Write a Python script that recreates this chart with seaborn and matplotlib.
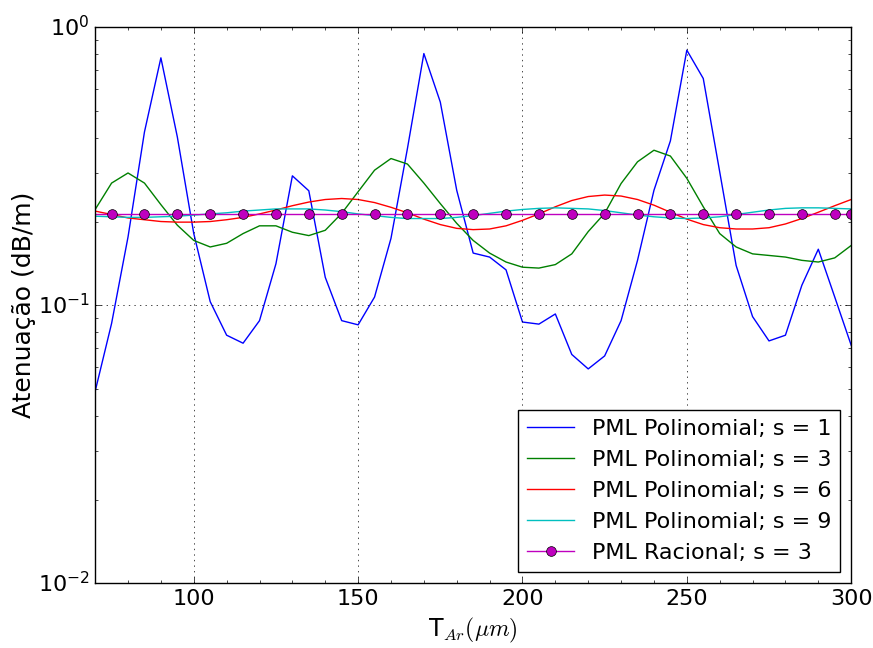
import numpy as np
import pandas as pd
import matplotlib
matplotlib.use('Agg')
import matplotlib.pyplot as plt
import seaborn as sns

plt.style.use('classic')
plt.rcParams['font.family'] = ['DejaVu Sans']
plt.rcParams['mathtext.fontset'] = 'cm'
plt.rcParams['figure.facecolor'] = 'white'
plt.rcParams['savefig.facecolor'] = 'white'

t_ar = list(range(70, 301, 5))

s1 = [0.049, 0.086, 0.176, 0.42, 0.776, 0.403, 0.181, 0.103, 0.078, 0.073,
      0.088, 0.141, 0.292, 0.258, 0.126, 0.088, 0.085, 0.107, 0.174, 0.366,
      0.804, 0.538, 0.259, 0.154, 0.149, 0.134, 0.087, 0.0855, 0.093, 0.0665,
      0.059, 0.0657, 0.088, 0.145, 0.259, 0.39, 0.827, 0.654, 0.302, 0.139,
      0.091, 0.0744, 0.078, 0.118, 0.159, 0.107, 0.0718]

s3 = [0.221, 0.275, 0.299, 0.275, 0.230, 0.194, 0.171, 0.162, 0.167, 0.181,
      0.193, 0.193, 0.183, 0.178, 0.186, 0.214, 0.256, 0.306, 0.337, 0.322,
      0.275, 0.232, 0.197, 0.171, 0.154, 0.143, 0.137, 0.136, 0.140, 0.153,
      0.184, 0.214, 0.274, 0.328, 0.361, 0.344, 0.286, 0.226, 0.181, 0.162,
      0.153, 0.151, 0.149, 0.145, 0.143, 0.148, 0.164]

s6 = [0.218, 0.212, 0.206, 0.203, 0.200, 0.199, 0.199, 0.200, 0.203, 0.207,
      0.213, 0.220, 0.228, 0.235, 0.240, 0.242, 0.240, 0.234, 0.225, 0.215,
      0.204, 0.195, 0.189, 0.187, 0.188, 0.193, 0.202, 0.213, 0.226, 0.238,
      0.246, 0.249, 0.247, 0.240, 0.229, 0.216, 0.204, 0.195, 0.190, 0.188,
      0.188, 0.190, 0.196, 0.205, 0.216, 0.228, 0.240]

s9 = [0.209, 0.208, 0.207, 0.207, 0.208, 0.209, 0.211, 0.213, 0.215, 0.218,
      0.220, 0.222, 0.222, 0.222, 0.220, 0.217, 0.213, 0.210, 0.207, 0.205,
      0.205, 0.205, 0.207, 0.210, 0.214, 0.218, 0.221, 0.223, 0.224, 0.223,
      0.222, 0.219, 0.215, 0.211, 0.208, 0.206, 0.205, 0.206, 0.208, 0.212,
      0.216, 0.220, 0.223, 0.224, 0.224, 0.223, 0.222]

t_rac = [70] + list(range(75, 300, 10)) + [300]
rac3 = [0.213] * len(t_rac)

labels = ['PML Polinomial; s = 1', 'PML Polinomial; s = 3',
          'PML Polinomial; s = 6', 'PML Polinomial; s = 9']
colors = ['b', 'g', 'r', 'c']

fig = plt.figure(figsize=(8.73, 6.48), dpi=100)
ax = fig.add_axes([0.109, 0.100, 0.866, 0.858])

for ys, lab, c in zip([s1, s3, s6, s9], labels, colors):
    sns.lineplot(x=t_ar, y=ys, color=c, label=lab, linewidth=1.0, ax=ax)

sns.lineplot(x=t_rac, y=rac3, color='m', label='PML Racional; s = 3',
             marker='o', markersize=7, markeredgecolor='k', markeredgewidth=0.5,
             markevery=list(range(1, len(t_rac))), linewidth=1.0, ax=ax)

ax.set_yscale('log')
ax.set_xlim(70, 300)
ax.set_ylim(1e-2, 1e0)
ax.set_xticks([100, 150, 200, 250, 300])
ax.xaxis.set_minor_locator(matplotlib.ticker.MultipleLocator(10))
ax.grid(True, which='major', color='k', linestyle=':', linewidth=0.5)
ax.tick_params(labelsize=16)
ax.set_xlabel(r'T$_{Ar} (\mu m)$', fontsize=17)
ax.set_ylabel('Atenuação (dB/m)', fontsize=18, labelpad=1)

leg = ax.legend(loc='lower right', fontsize=16, numpoints=1, fancybox=False,
                handlelength=2.1)
leg.get_frame().set_edgecolor('k')

fig.savefig('out.png', dpi=100)
